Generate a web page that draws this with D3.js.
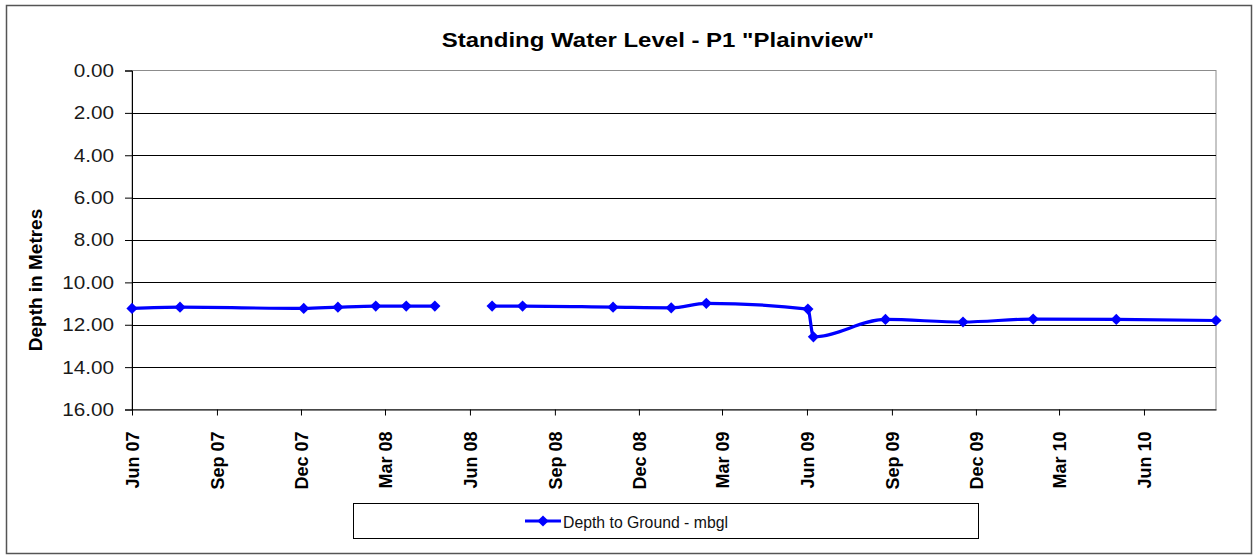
<!DOCTYPE html>
<html>
<head>
<meta charset="utf-8">
<script src="https://cdn.jsdelivr.net/npm/d3@7"></script>
<style>
  body { margin: 0; background: #fff; }
  svg { font-family: "Liberation Sans", Arial, sans-serif; }
  .grid line { stroke: #000; stroke-width: 1; }
  .axis path, .axis line { stroke: #000; }
</style>
</head>
<body>
<div id="chart"></div>
<script>
// readings (null = no reading, leaves a gap in the line)
const dates = ["2007-06-01", "2007-07-23", "2007-12-04", "2008-01-10", "2008-02-20",
  "2008-03-24", "2008-04-24", "2008-05-28", "2008-06-25", "2008-07-28", "2008-11-03",
  "2009-01-05", "2009-02-12", "2009-06-02", "2009-06-08", "2009-08-25", "2009-11-17",
  "2010-02-01", "2010-05-02", "2010-08-18"];
const depths = [11.23, 11.17, 11.23, 11.17, 11.12, 11.12, 11.12, null, 11.12, 11.12, 11.17,
  11.20, 10.99, 11.26, 12.57, 11.75, 11.87, 11.73, 11.75, 11.80];
const xTicks = ["2007-06-01", "2007-09-01", "2007-12-01", "2008-03-01", "2008-06-01",
  "2008-09-01", "2008-12-01", "2009-03-01", "2009-06-01", "2009-09-01", "2009-12-01",
  "2010-03-01", "2010-06-01"];
const yTicks = [0, 2, 4, 6, 8, 10, 12, 14, 16];
const title = "Standing Water Level - P1 \"Plainview\"";
const seriesName = "Depth to Ground - mbgl";

const W = 1254, H = 555;
const plotLeft = 132, plotRight = 1216, plotTop = 70.5, plotBottom = 409.5;

const parse = d3.timeParse("%Y-%m-%d");
const data = dates.map((d, i) => ({ date: parse(d), value: depths[i] }));

const x = d3.scaleTime().domain([parse(dates[0]), parse(dates[dates.length - 1])]).range([plotLeft, plotRight]);
const y = d3.scaleLinear().domain([0, 16]).range([plotTop, plotBottom]);

// the source picture is a little wider than tall, stretch flat text to match
function stretch(sel, k) {
  sel.attr("lengthAdjust", "spacingAndGlyphs")
     .attr("textLength", function() { return this.getComputedTextLength() * k; });
}

const svg = d3.select("#chart").append("svg")
    .attr("width", W)
    .attr("height", H);

// chart frame
svg.append("rect")
    .attr("x", 6.5).attr("y", 5.5)
    .attr("width", 1245).attr("height", 548)
    .attr("fill", "#fff")
    .attr("stroke", "#555")
    .attr("stroke-width", 1.5);

// plot area border
svg.append("rect")
    .attr("x", plotLeft).attr("y", plotTop)
    .attr("width", plotRight - plotLeft).attr("height", plotBottom - plotTop)
    .attr("fill", "none")
    .attr("stroke", "#8c8c8c");

// horizontal gridlines
svg.append("g")
    .attr("class", "grid")
    .selectAll("line")
    .data(yTicks.slice(1, -1))
    .enter()
    .append("line")
    .attr("x1", plotLeft).attr("x2", plotRight)
    .attr("y1", d => Math.round(y(d)) + 0.5)
    .attr("y2", d => Math.round(y(d)) + 0.5);

// y axis
const yAxis = d3.axisLeft(y).tickValues(yTicks).tickFormat(d3.format(".2f")).tickSize(7).tickPadding(11);
svg.append("g")
    .attr("class", "axis y")
    .attr("transform", "translate(" + plotLeft + ",0)")
    .call(yAxis)
    .call(g => g.selectAll("text")
        .attr("font-size", 18.5)
        .attr("fill", "#1a1a1a")
        .attr("font-family", "Liberation Sans, Arial, sans-serif")
        .call(stretch, 1.12));

// x axis
const xAxis = d3.axisBottom(x).tickValues(xTicks.map(parse)).tickFormat(d3.timeFormat("%b %y")).tickSize(6).tickSizeOuter(0);
svg.append("g")
    .attr("class", "axis x")
    .attr("transform", "translate(0," + plotBottom + ")")
    .call(xAxis)
    .call(g => g.selectAll("text")
        .attr("font-size", 18)
        .attr("font-weight", "bold")
        .attr("fill", "#000")
        .attr("font-family", "Liberation Sans, Arial, sans-serif")
        .attr("text-anchor", "end")
        .attr("transform", "rotate(-90)")
        .attr("x", -22)
        .attr("y", 0)
        .attr("dy", "0.35em"));

// title
svg.append("text")
    .attr("x", 658)
    .attr("y", 47)
    .attr("text-anchor", "middle")
    .attr("font-size", 20.5)
    .attr("font-weight", "bold")
    .text(title)
    .call(stretch, 1.17);

// y label
svg.append("text")
    .attr("transform", "translate(42,280) rotate(-90)")
    .attr("text-anchor", "middle")
    .attr("font-size", 19)
    .attr("font-weight", "bold")
    .text("Depth in Metres");

// series line
const line = d3.line()
    .defined(d => d.value != null)
    .curve(d3.curveMonotoneX)
    .x(d => x(d.date))
    .y(d => y(d.value));

svg.append("path")
    .attr("d", line(data))
    .attr("fill", "none")
    .attr("stroke", "#0000ff")
    .attr("stroke-width", 3.2);

const diamond = d3.symbol().type(d3.symbolDiamond2).size(80);

svg.selectAll(".pt")
    .data(data.filter(d => d.value != null))
    .enter()
    .append("path")
    .attr("class", "pt")
    .attr("d", diamond)
    .attr("transform", d => "translate(" + x(d.date) + "," + y(d.value) + ")")
    .attr("fill", "#0000ff");

// legend
const legend = svg.append("g");
legend.append("rect")
    .attr("x", 353.5).attr("y", 503.5)
    .attr("width", 625).attr("height", 35)
    .attr("fill", "#fff")
    .attr("stroke", "#000");
legend.append("line")
    .attr("x1", 525).attr("x2", 561)
    .attr("y1", 521).attr("y2", 521)
    .attr("stroke", "#0000ff")
    .attr("stroke-width", 3.2);
legend.append("path")
    .attr("d", diamond)
    .attr("transform", "translate(543,521)")
    .attr("fill", "#0000ff");
legend.append("text")
    .attr("x", 563)
    .attr("y", 527.5)
    .attr("font-size", 17)
    .attr("fill", "#111")
    .attr("textLength", 165)
    .attr("lengthAdjust", "spacingAndGlyphs")
    .text(seriesName);
</script>
</body>
</html>
